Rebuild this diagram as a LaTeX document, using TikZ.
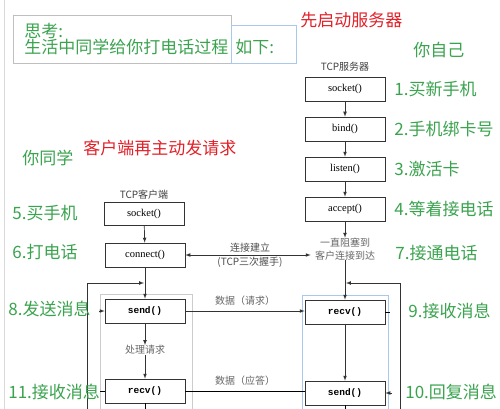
\documentclass[tikz,border=0pt]{standalone}
\usepackage{fontspec}
\setmainfont{Liberation Serif}
\setmonofont{Liberation Mono}
\newfontfamily\cjk{Noto Sans CJK SC}
\usetikzlibrary{positioning}

\definecolor{gruen}{RGB}{58,163,78}
\definecolor{rot}{RGB}{226,32,40}
\definecolor{hellblau}{RGB}{170,200,235}

\tikzset{
  kasten/.style={draw=black!80, fill=white, minimum width=80pt, minimum height=24pt, inner sep=0pt, font=\fontsize{10.5}{12}\selectfont},
  fettkasten/.style={kasten, font=\fontsize{9.5}{11}\selectfont\ttfamily\bfseries},
  schritt/.style={anchor=west, inner sep=0pt, text=gruen, font=\cjk\fontsize{17}{19}\selectfont},
  hinweis/.style={anchor=west, inner sep=0pt, text=rot, font=\cjk\fontsize{17}{19}\selectfont},
  klein/.style={inner sep=0pt, align=center, text=black!60, font=\cjk\fontsize{10}{12.5}\selectfont},
  pfeil/.style={-latex, black!80},
}

\begin{document}
\begin{tikzpicture}[x=1pt, y=-1pt, line width=0.7pt]
  \useasboundingbox (0,0) rectangle (500,409);

  % Rand links
  \draw[black!15] (4,0) -- (4,409);

  % Denkfrage oben
  \node[draw=black!25, minimum width=218pt, minimum height=48pt, inner sep=0pt] (frage) at (122,39) {};
  \node[draw=hellblau, minimum width=65pt, minimum height=38pt, inner sep=0pt] (wie) at (263.5,44) {};
  \node[schritt] (denk) at (24,31) {思考:};
  \node[schritt] (gespraech) at (24,47) {生活中同学给你打电话过程};
  \node[schritt] (folgt) at (235,47) {如下:};

  % Hinweise
  \node[hinweis] (zuerst) at (300,20) {先启动服务器};
  \node[hinweis] (anfrage) at (83,148) {客户端再主动发请求};
  \node[schritt] (ich) at (413,50) {你自己};
  \node[schritt] (du) at (22,158) {你同学};

  % Rahmen um die Schleifen
  \draw[black!20] (100,294) rectangle (192,415);
  \draw[hellblau] (302,295) rectangle (388,415);

  % Server
  \node[klein, text=black!75] (tcps) at (345,67) {TCP服务器};
  \foreach \i/\t/\s in {1/socket()/1.买新手机, 2/bind()/2.手机绑卡号, 3/listen()/3.激活卡, 4/accept()/4.等着接电话} {
    \node[kasten] (s\i) at (345,{49+40*\i}) {\t};
    \node[schritt] (l\i) at (394,{49+40*\i}) {\s};
  }
  \foreach \i/\j in {1/2, 2/3, 3/4}
    \draw[pfeil] (s\i) -- (s\j);

  \node[klein] (warten) at (345,249) {一直阻塞到\\客户连接到达};
  \draw[pfeil] (s4) -- (warten);
  \node[fettkasten] (srecv) at (345,312) {recv()};
  \node[fettkasten] (ssend) at (345,393) {send()};
  \draw[pfeil] (warten) -- (srecv);
  \draw[pfeil] (srecv) -- (ssend);
  \coordinate (sunten) at (345,409);
  \draw (ssend) -- (sunten);

  % Schleife rechts
  \coordinate (sr1) at (400,409);
  \coordinate (sr2) at (400,283);
  \coordinate (sr3) at (346,283);
  \draw[pfeil] (sr1) -- (sr2) -- (sr3);
  \coordinate (st1) at (390,312);
  \coordinate (st2) at (392,393);
  \draw (srecv.east) -- (st1);
  \draw[pfeil] (st2) -- (ssend.east);

  \node[schritt] (l7) at (395,253) {7.接通电话};
  \node[schritt] (l9) at (408,311) {9.接收消息};
  \node[schritt] (l10) at (405,392) {10.回复消息};

  % Client
  \node[klein, text=black!75] (tcpc) at (144,195) {TCP客户端};
  \node[kasten, minimum height=23pt] (csock) at (144,214) {socket()};
  \node[kasten] (conn) at (145,255) {connect()};
  \draw[pfeil] (csock) -- (conn);
  \draw[latex-latex, black!80, shorten >=4pt] (conn.east) -- (conn.east -| warten.west)
    node[midway, above=2pt, klein, text=black!70] {连接建立}
    node[midway, below=2pt, klein, text=black!70] {(TCP三次握手)};

  \node[fettkasten] (csend) at (145,311) {send()};
  \node[klein] (verarb) at (145,350) {处理请求};
  \node[fettkasten] (crecv) at (145,391) {recv()};
  \draw[pfeil] (conn) -- (csend);
  \draw[pfeil] (csend) -- (verarb);
  \draw[pfeil] (verarb) -- (crecv);
  \coordinate (cunten) at (145,409);
  \draw (crecv) -- (cunten);

  % Schleife links
  \coordinate (cl1) at (87,409);
  \coordinate (cl2) at (87,283);
  \coordinate (cl3) at (144,283);
  \draw[pfeil] (cl1) -- (cl2) -- (cl3);
  \coordinate (ct1) at (99,311);
  \coordinate (ct2) at (100,391);
  \draw[pfeil] (ct1) -- (csend.west);
  \draw (ct2) -- (crecv.west);

  \node[schritt] (l5) at (12,213) {5.买手机};
  \node[schritt] (l6) at (12,252) {6.打电话};
  \node[schritt] (l8) at (8,309) {8.发送消息};
  \node[schritt] (l11) at (8,392) {11.接收消息};

  % Daten
  \draw[pfeil] (csend.east) -- (csend.east -| srecv.west)
    node[midway, above=5pt, klein] {数据（请求）};
  \draw (crecv.east) -- (crecv.east -| ssend.west)
    node[midway, above=5pt, klein] {数据（应答）};
\end{tikzpicture}
\end{document}
